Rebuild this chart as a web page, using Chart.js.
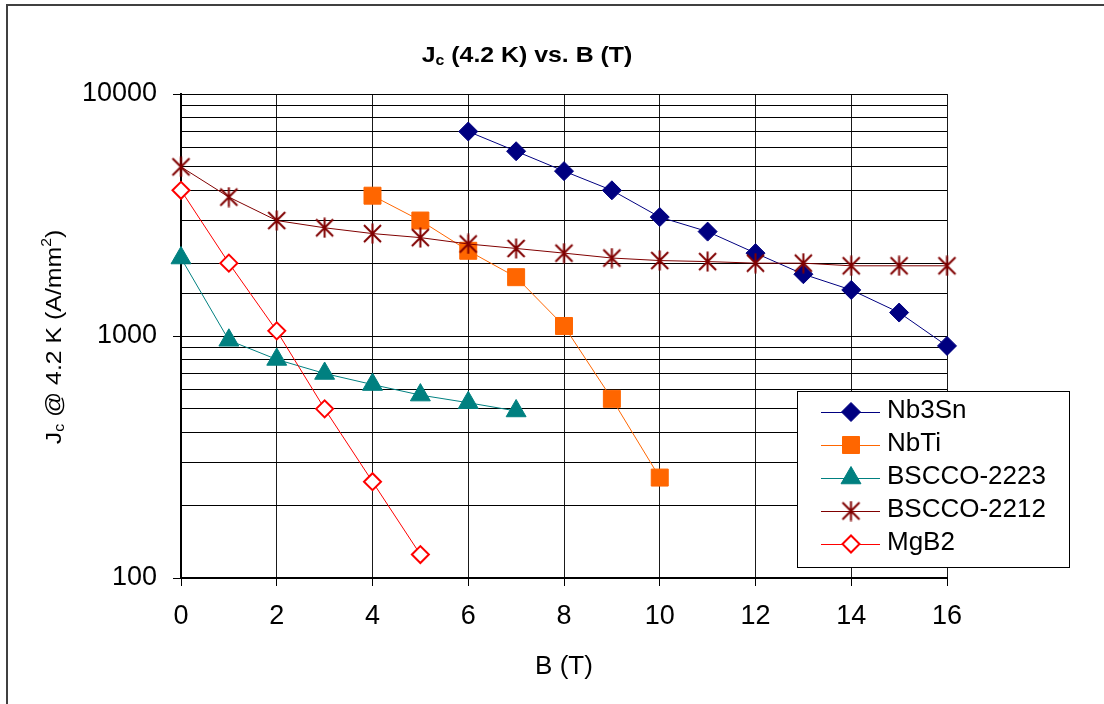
<!DOCTYPE html>
<html>
<head>
<meta charset="utf-8">
<title>Jc (4.2 K) vs. B (T)</title>
<script src="https://cdn.jsdelivr.net/npm/chart.js@4.4.1/dist/chart.umd.min.js"></script>
<style>
  html, body { margin: 0; padding: 0; background: #fff; }
</style>
</head>
<body>
<canvas id="jc-chart" width="1104" height="704"></canvas>
<script>
/*==== data ====*/
const nb3snB = [6, 7, 8, 9, 10, 11, 12, 13, 14, 15, 16];
const nb3snJc = [7000, 5800, 4800, 4000, 3100, 2700, 2200, 1800, 1550, 1250, 910];

const nbtiB = [4, 5, 6, 7, 8, 9, 10];
const nbtiJc = [3800, 3000, 2250, 1750, 1100, 550, 260];

const bscco2223B = [0, 1, 2, 3, 4, 5, 6, 7];
const bscco2223Jc = [2100, 960, 800, 700, 630, 570, 530, 490];

const bscco2212B = [0, 1, 2, 3, 4, 5, 6, 7, 8, 9, 10, 11, 12, 13, 14, 15, 16];
const bscco2212Jc = [5000, 3750, 3000, 2800, 2650, 2550, 2400, 2300, 2200, 2100, 2050, 2030, 2000, 2000, 1950, 1950, 1950];

const mgb2B = [0, 1, 2, 3, 4, 5];
const mgb2Jc = [4000, 2000, 1050, 500, 250, 125];

const yLabelValues = [100, 1000, 10000];

const FONT = '"Liberation Sans", Arial, sans-serif';

function toPoints(xs, ys) {
    return xs.map(function (x, i) { return { x: x, y: ys[i] }; });
}

// six-armed asterisk marker like the one in the sheet
function makeAsterisk(color) {
    var c = document.createElement('canvas');
    c.width = 21; c.height = 21;
    var g = c.getContext('2d');
    g.strokeStyle = color;
    g.lineWidth = 2;
    g.beginPath();
    g.moveTo(2, 2); g.lineTo(19, 19);
    g.moveTo(19, 2); g.lineTo(2, 19);
    g.moveTo(10.5, 0.5); g.lineTo(10.5, 20.5);
    g.stroke();
    return c;
}

function isMajor(v) {
    return yLabelValues.some(function (m) { return Math.abs(m - v) < 1e-6; });
}

/*==== datasets ====*/
const datasets = [
    {
        label: 'Nb3Sn', data: toPoints(nb3snB, nb3snJc),
        borderColor: '#000080', pointBackgroundColor: '#000080', pointBorderColor: '#000080',
        pointStyle: 'rectRot', pointRadius: 9.5, pointBorderWidth: 1, order: 4
    },
    {
        label: 'NbTi', data: toPoints(nbtiB, nbtiJc),
        borderColor: '#FF6600', pointBackgroundColor: '#FF6600', pointBorderColor: '#FF6600',
        pointStyle: 'rect', pointRadius: 12, pointBorderWidth: 1, order: 3
    },
    {
        label: 'BSCCO-2223', data: toPoints(bscco2223B, bscco2223Jc),
        borderColor: '#008080', pointBackgroundColor: '#008080', pointBorderColor: '#008080',
        pointStyle: 'triangle', pointRadius: 11.5, pointBorderWidth: 1, order: 2
    },
    {
        label: 'BSCCO-2212', data: toPoints(bscco2212B, bscco2212Jc),
        borderColor: '#800000', pointBackgroundColor: '#800000', pointBorderColor: '#800000',
        pointStyle: makeAsterisk('#800000'), pointRadius: 10, pointBorderWidth: 0, order: 1
    },
    {
        label: 'MgB2', data: toPoints(mgb2B, mgb2Jc),
        borderColor: '#FF0000', pointBackgroundColor: '#FFFFFF', pointBorderColor: '#FF0000',
        pointStyle: 'rectRot', pointRadius: 8.5, pointBorderWidth: 2, order: 0
    }
];
datasets.forEach(function (d) {
    d.borderWidth = 1;
    d.backgroundColor = d.pointBackgroundColor;
    d.tension = 0;
    d.fill = false;
    d.clip = false;
});

/*==== text with sub / superscripts ====*/
function drawRich(ctx, parts, stretch) {
    var total = 0;
    parts.forEach(function (p) {
        ctx.font = (p.bold ? 'bold ' : '') + p.size + 'px ' + FONT;
        p.w = ctx.measureText(p.t).width;
        total += p.w;
    });
    ctx.scale(stretch, 1);
    var x = -total / 2;
    ctx.textAlign = 'left';
    ctx.textBaseline = 'alphabetic';
    ctx.fillStyle = '#000';
    parts.forEach(function (p) {
        ctx.font = (p.bold ? 'bold ' : '') + p.size + 'px ' + FONT;
        ctx.fillText(p.t, x, p.dy || 0);
        x += p.w;
    });
}

const sheetPlugin = {
    id: 'sheet',
    beforeDraw: function (chart) {
        var ctx = chart.ctx;
        ctx.save();
        ctx.strokeStyle = '#404040';
        ctx.lineWidth = 2;
        ctx.beginPath();
        ctx.moveTo(7, chart.height + 2);
        ctx.lineTo(7, 5);
        ctx.lineTo(chart.width + 2, 5);
        ctx.stroke();
        ctx.restore();
    },
    afterDraw: function (chart) {
        var ctx = chart.ctx;

        // title
        ctx.save();
        ctx.translate(527, 62);
        drawRich(ctx, [
            { t: 'J', size: 22, bold: true },
            { t: 'c', size: 14, bold: true, dy: 3 },
            { t: ' (4.2 K) vs. B (T)', size: 22, bold: true }
        ], 1.13);
        ctx.restore();

        // y axis title
        ctx.save();
        ctx.translate(61, 337);
        ctx.rotate(-Math.PI / 2);
        drawRich(ctx, [
            { t: 'J', size: 22 },
            { t: 'c', size: 14, dy: 3 },
            { t: ' @ 4.2 K (A/mm', size: 22 },
            { t: '2', size: 14, dy: -10 },
            { t: ')', size: 22 }
        ], 1.13);
        ctx.restore();

        // legend
        ctx.save();
        ctx.fillStyle = '#fff';
        ctx.fillRect(797, 391, 272, 176);
        ctx.strokeStyle = '#000';
        ctx.lineWidth = 1;
        ctx.strokeRect(797.5, 391.5, 272, 176);
        chart.data.datasets.forEach(function (d, i) {
            var y = 412 + i * 33;
            ctx.strokeStyle = d.borderColor;
            ctx.lineWidth = 1;
            ctx.beginPath();
            ctx.moveTo(821, y + 0.5);
            ctx.lineTo(880, y + 0.5);
            ctx.stroke();
            ctx.fillStyle = d.pointBackgroundColor;
            ctx.strokeStyle = d.pointBorderColor;
            ctx.lineWidth = d.pointBorderWidth;
            Chart.helpers.drawPoint(ctx, {
                pointStyle: d.pointStyle, radius: d.pointRadius,
                rotation: 0, borderWidth: d.pointBorderWidth
            }, 851, y);
            ctx.fillStyle = '#000';
            ctx.font = '26px ' + FONT;
            ctx.textAlign = 'left';
            ctx.textBaseline = 'alphabetic';
            ctx.fillText(d.label, 887, y + 5.5);
        });
        ctx.restore();
    }
};

/*==== config ====*/
const config = {
    type: 'line',
    data: { datasets: datasets },
    options: {
        responsive: false,
        animation: false,
        events: [],
        layout: { padding: { left: 0, top: 94, right: 157, bottom: 0 } },
        plugins: {
            legend: { display: false },
            title: { display: false },
            tooltip: { enabled: false }
        },
        scales: {
            x: {
                type: 'linear',
                min: 0,
                max: 16,
                border: { color: '#000', width: 2 },
                grid: { color: '#1a1a1a', tickColor: '#000', tickLength: 8, lineWidth: 1 },
                ticks: { stepSize: 2, color: '#000', font: { family: FONT, size: 27 }, padding: 14, maxRotation: 0 },
                title: {
                    display: true, text: 'B (T)', color: '#000',
                    font: { family: FONT, size: 26 }, padding: { top: 0, bottom: 22 }
                },
                afterFit: function (scale) { scale.height = 126; }
            },
            y: {
                type: 'logarithmic',
                min: 100,
                max: 10000,
                border: { color: '#000', width: 2 },
                grid: {
                    color: '#000',
                    lineWidth: 1,
                    tickLength: 8,
                    tickColor: function (c) { return c.tick && isMajor(c.tick.value) ? '#000' : 'rgba(0,0,0,0)'; }
                },
                ticks: {
                    autoSkip: false,
                    color: '#000',
                    padding: 16,
                    font: { family: FONT, size: 27 },
                    callback: function (v) { return isMajor(v) ? String(v) : ''; }
                },
                afterFit: function (scale) { scale.width = 181; }
            }
        }
    },
    plugins: [sheetPlugin]
};

/*===== render =====*/
var jcChart = new Chart(document.getElementById('jc-chart'), config);
</script>
</body>
</html>
